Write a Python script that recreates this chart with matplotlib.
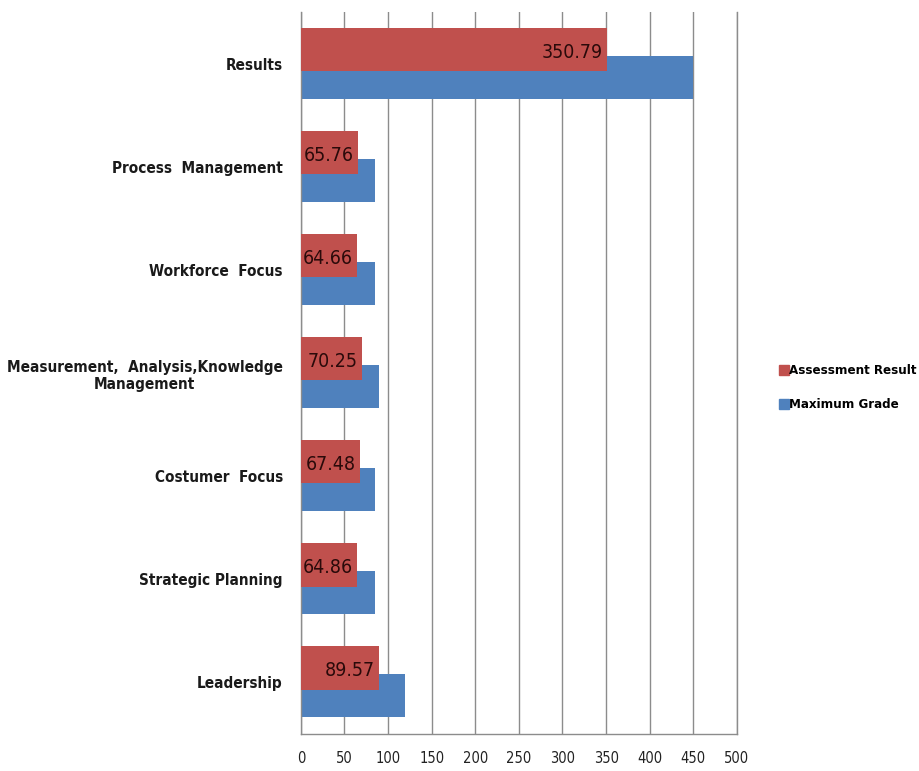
import numpy as np
import matplotlib
matplotlib.use("Agg")
import matplotlib.pyplot as plt
from matplotlib.lines import Line2D

# ----------------------------- data -----------------------------------------
categories = ["Leadership", "Strategic Planning", "Costumer  Focus",
              "Measurement,  Analysis,Knowledge\nManagement", "Workforce  Focus",
              "Process  Management", "Results"]
assessment = [89.57, 64.86, 67.48, 70.25, 64.66, 65.76, 350.79]
max_grade = [120, 85, 85, 90, 85, 85, 450]
x_ticks = [0, 50, 100, 150, 200, 250, 300, 350, 400, 450, 500]

RED = "#c0504d"
BLUE = "#4f81bd"
GRID = "#8c8c8c"

plt.rcParams.update({"font.family": "DejaVu Sans", "font.stretch": "condensed"})

fig = plt.figure(figsize=(9.2, 7.71), dpi=100)
ax = fig.add_axes([0.327, 0.048, 0.474, 0.936])

y = np.arange(len(categories))
h = 0.42
ax.barh(y - 0.13, max_grade, h, color=BLUE, zorder=2)
ax.barh(y + 0.14, assessment, h, color=RED, zorder=3)

# value labels just inside the end of the red bars
for yi, v in zip(y, assessment):
    ax.annotate(f"{v:.2f}", (v, yi + 0.14), xytext=(-3, -2), textcoords="offset points",
                ha="right", va="center", fontsize=14, color="#2a0a0a",
                fontstretch="condensed", zorder=4)

ax.set_xlim(0, 500)
ax.set_ylim(-0.5, len(categories) - 0.5)
ax.set_xticks(x_ticks)
ax.set_xticklabels([str(t) for t in x_ticks], fontsize=10.5, color="#222222")
ax.set_yticks(y)
ax.set_yticklabels(categories, fontsize=11, fontweight="bold", color="#1a1a1a",
                   multialignment="center")
ax.tick_params(axis="both", length=0)
ax.tick_params(axis="y", pad=13)
ax.tick_params(axis="x", pad=12)
ax.grid(axis="x", color=GRID, lw=1, zorder=1)
ax.set_axisbelow(True)
ax.spines["top"].set_visible(False)
for s in ["left", "bottom", "right"]:
    ax.spines[s].set_color(GRID)
    ax.spines[s].set_linewidth(1)

handles = [Line2D([], [], ls="", marker="s", ms=6.5, color=RED),
           Line2D([], [], ls="", marker="s", ms=6.5, color=BLUE)]
fig.legend(handles, ["Assessment Result", "Maximum Grade"], loc="center left",
           bbox_to_anchor=(0.835, 0.497), frameon=False,
           handlelength=0.6, handletextpad=0.1, labelspacing=1.6,
           prop=dict(weight="bold", size=9.5, stretch="condensed"))

fig.savefig("out.png", dpi=100)
